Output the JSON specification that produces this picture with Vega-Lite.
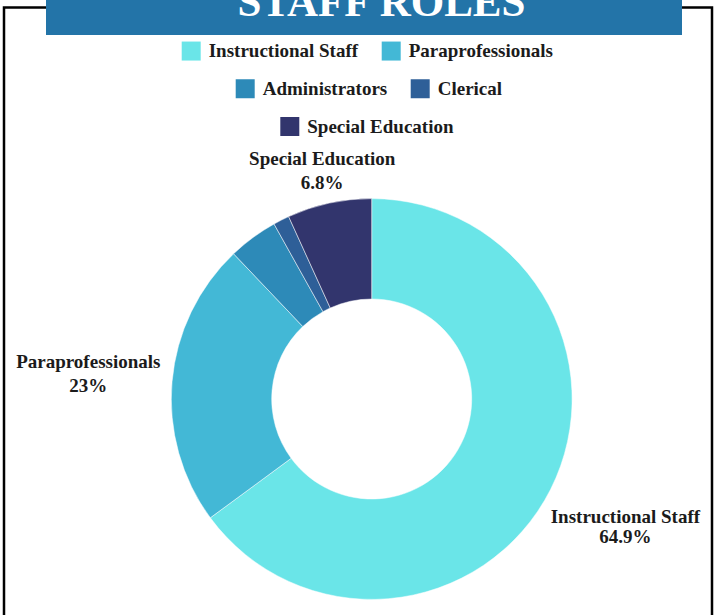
{
  "$schema": "https://vega.github.io/schema/vega-lite/v6.json",
  "autosize": {"type": "none"},
  "padding": {"left": 4, "top": 7.5, "right": 2, "bottom": 0},
  "width": 708,
  "height": 620,
  "background": "white",
  "view": {"stroke": "black", "strokeWidth": 2.5},
  "title": {
    "text": "STAFF ROLES",
    "font": "Liberation Serif",
    "fontSize": 43,
    "fontWeight": "bold",
    "color": "white",
    "anchor": "middle",
    "frame": "group",
    "orient": "top",
    "offset": 0,
    "baseline": "alphabetic",
    "dx": 23.5,
    "dy": 58.5,
    "zindex": 5
  },
  "data": {
    "values": [
      {"role": "Instructional Staff", "value": 64.9, "idx": 1},
      {"role": "Paraprofessionals", "value": 23, "idx": 2},
      {"role": "Administrators", "value": 4.0, "idx": 3},
      {"role": "Clerical", "value": 1.3, "idx": 4},
      {"role": "Special Education", "value": 6.8, "idx": 5}
    ]
  },
  "transform": [
    {"calculate": "[datum.role, datum.value + '%']", "as": "label"}
  ],
  "layer": [
    {
      "mark": {"type": "arc", "radius": 200.4, "innerRadius": 100, "xOffset": 13.7, "yOffset": 81.5, "stroke": "white", "strokeWidth": 0.5},
      "encoding": {
        "theta": {"field": "value", "type": "quantitative", "stack": true},
        "order": {"field": "idx", "type": "quantitative"},
        "color": {
          "field": "role", "type": "nominal",
          "scale": {"domain": ["Instructional Staff", "Paraprofessionals", "Administrators", "Clerical", "Special Education"], "range": ["#6ae5e8", "#43b8d6", "#2d8ab8", "#2e5f98", "#32356d"]},
          "legend": {"values": ["Instructional Staff", "Paraprofessionals"], "orient": "none", "direction": "horizontal", "legendX": 177.7, "legendY": 33.8, "title": null, "labelFont": "Liberation Serif", "zindex": 1}
        }
      }
    },
    {
      "mark": {"type": "text", "text": ""},
      "encoding": {
        "color": {
          "field": "role", "type": "nominal",
          "scale": {"domain": ["Instructional Staff", "Paraprofessionals", "Administrators", "Clerical", "Special Education"], "range": ["#6ae5e8", "#43b8d6", "#2d8ab8", "#2e5f98", "#32356d"]},
          "legend": {"values": ["Administrators", "Clerical"], "orient": "none", "direction": "horizontal", "legendX": 231.7, "legendY": 71.5, "title": null, "labelFont": "Liberation Serif", "zindex": 1}
        }
      }
    },
    {
      "mark": {"type": "text", "text": ""},
      "encoding": {
        "color": {
          "field": "role", "type": "nominal",
          "scale": {"domain": ["Instructional Staff", "Paraprofessionals", "Administrators", "Clerical", "Special Education"], "range": ["#6ae5e8", "#43b8d6", "#2d8ab8", "#2e5f98", "#32356d"]},
          "legend": {"values": ["Special Education"], "orient": "none", "direction": "horizontal", "legendX": 276.3, "legendY": 109.5, "title": null, "labelFont": "Liberation Serif", "zindex": 1}
        }
      }
    },
    {
      "mark": {"type": "text", "text": ""},
      "encoding": {
        "color": {
          "field": "value", "type": "quantitative",
          "scale": {"range": ["#2374a8", "#2374a8"]},
          "legend": {"orient": "none", "direction": "horizontal", "legendX": 42, "legendY": -7.5, "gradientLength": 636, "gradientThickness": 35, "gradientStrokeWidth": 0, "title": null, "values": [], "labelOpacity": 0, "zindex": 0}
        }
      }
    },
    {
      "mark": {"type": "text", "radius": 284.5, "xOffset": 13.7, "yOffset": 81.5, "dy": -12, "font": "Liberation Serif", "fontSize": 19, "fontWeight": "bold", "color": "#1b1b1b", "align": "center", "baseline": "middle", "lineHeight": 24},
      "encoding": {
        "theta": {"field": "value", "type": "quantitative", "stack": true},
        "order": {"field": "idx", "type": "quantitative"},
        "text": {"condition": {"test": "datum.role === 'Paraprofessionals'", "field": "label"}, "value": ""}
      }
    },
    {
      "mark": {"type": "text", "radius": 284.3, "xOffset": 13.7, "yOffset": 81.5, "dy": -10, "font": "Liberation Serif", "fontSize": 19, "fontWeight": "bold", "color": "#1b1b1b", "align": "center", "baseline": "middle", "lineHeight": 20},
      "encoding": {
        "theta": {"field": "value", "type": "quantitative", "stack": true},
        "order": {"field": "idx", "type": "quantitative"},
        "text": {"condition": {"test": "datum.role === 'Instructional Staff'", "field": "label"}, "value": ""}
      }
    },
    {
      "mark": {"type": "text", "radius": 233.5, "xOffset": 13.7, "yOffset": 81.5, "dy": -12, "font": "Liberation Serif", "fontSize": 19, "fontWeight": "bold", "color": "#1b1b1b", "align": "center", "baseline": "middle", "lineHeight": 24},
      "encoding": {
        "theta": {"field": "value", "type": "quantitative", "stack": true},
        "order": {"field": "idx", "type": "quantitative"},
        "text": {"condition": {"test": "datum.role === 'Special Education'", "field": "label"}, "value": ""}
      }
    }
  ],
  "resolve": {"scale": {"color": "independent"}, "legend": {"color": "independent"}},
  "config": {
    "view": {"stroke": "black", "strokeWidth": 2.5},
    "legend": {
      "labelFont": "Liberation Serif",
      "labelFontSize": 19,
      "labelFontWeight": "bold",
      "labelColor": "#1b1b1b",
      "symbolType": "square",
      "symbolSize": 361,
      "symbolStrokeWidth": 0,
      "symbolOpacity": 1,
      "labelOffset": 8,
      "columnPadding": 23,
      "padding": 0,
      "labelLimit": 400
    }
  }
}
